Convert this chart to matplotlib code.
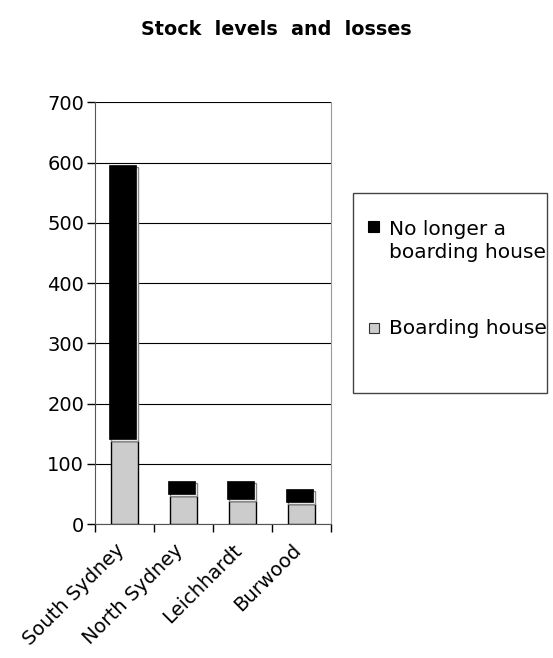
import matplotlib.pyplot as plt
import matplotlib.transforms as mtransforms
from matplotlib.patches import Rectangle
import numpy as np

councils = ["South Sydney", "North Sydney", "Leichhardt", "Burwood"]
boarding = [137, 47, 38, 34]
no_longer = [455, 21, 30, 21]
y_ticks = [0, 100, 200, 300, 400, 500, 600, 700]

grey = "#cccccc"

fig = plt.figure(figsize=(5.53, 6.58), dpi=100)
ax = fig.add_axes([0.172, 0.2036, 0.427, 0.641])

x = np.arange(len(councils))
w = 0.46

# lower series with black edge
ax.bar(x, boarding, width=w, color=grey, edgecolor="black", linewidth=1.0, zorder=3)

# shadow outline for the upper series, black block shifted up-left
ax.bar(x, no_longer, width=w, bottom=boarding, color="white",
       edgecolor="#888888", linewidth=1.0, zorder=3)
shift = mtransforms.offset_copy(ax.transData, fig=fig, x=-2, y=2, units="dots")
ax.bar(x, no_longer, width=w, bottom=boarding, color="black",
       edgecolor="black", linewidth=0.5, zorder=4, transform=shift)

ax.set_xlim(-0.5, len(councils) - 0.5)
ax.set_ylim(0, 700)
ax.set_yticks(y_ticks)
ax.tick_params(axis="y", labelsize=14, length=6, width=1, direction="out", pad=2)
ax.yaxis.grid(True, color="black", linewidth=0.8, zorder=0)

ax.set_xticks(x)
ax.set_xticklabels(councils, rotation=45, ha="right", rotation_mode="anchor",
                   fontsize=14)
ax.tick_params(axis="x", length=0, pad=12)
nudge = mtransforms.ScaledTranslation(-10 / 100, 0, fig.dpi_scale_trans)
for lbl in ax.get_xticklabels():
    lbl.set_transform(lbl.get_transform() + nudge)
ax.set_xticks(np.arange(len(councils) + 1) - 0.5, minor=True)
ax.tick_params(axis="x", which="minor", length=6, width=1, direction="out")

ax.spines["top"].set_visible(False)
ax.spines["right"].set_color("#999999")
ax.spines["left"].set_color("#555555")
ax.spines["bottom"].set_color("#555555")

fig.suptitle("Stock  levels  and  losses", y=0.97, fontsize=13.8, fontweight="bold")

# legend box
fig.patches.append(Rectangle((353 / 553, 1 - 393 / 658), 194 / 553, 200 / 658,
                             transform=fig.transFigure, facecolor="white",
                             edgecolor="#444444", linewidth=1.0))
fig.patches.append(Rectangle((368 / 553, 1 - 232 / 658), 11 / 553, 11 / 658,
                             transform=fig.transFigure, facecolor="black",
                             edgecolor="black", linewidth=0.8))
fig.patches.append(Rectangle((369 / 553, 1 - 333 / 658), 10 / 553, 10 / 658,
                             transform=fig.transFigure, facecolor=grey,
                             edgecolor="#333333", linewidth=0.8))
fig.text(389 / 553, 1 - 241 / 658, "No longer a\nboarding house", fontsize=14.5,
         va="center", ha="left", linespacing=1.25)
fig.text(389 / 553, 1 - 328 / 658, "Boarding house", fontsize=14.5,
         va="center", ha="left")

fig.savefig("out.png", dpi=100)
